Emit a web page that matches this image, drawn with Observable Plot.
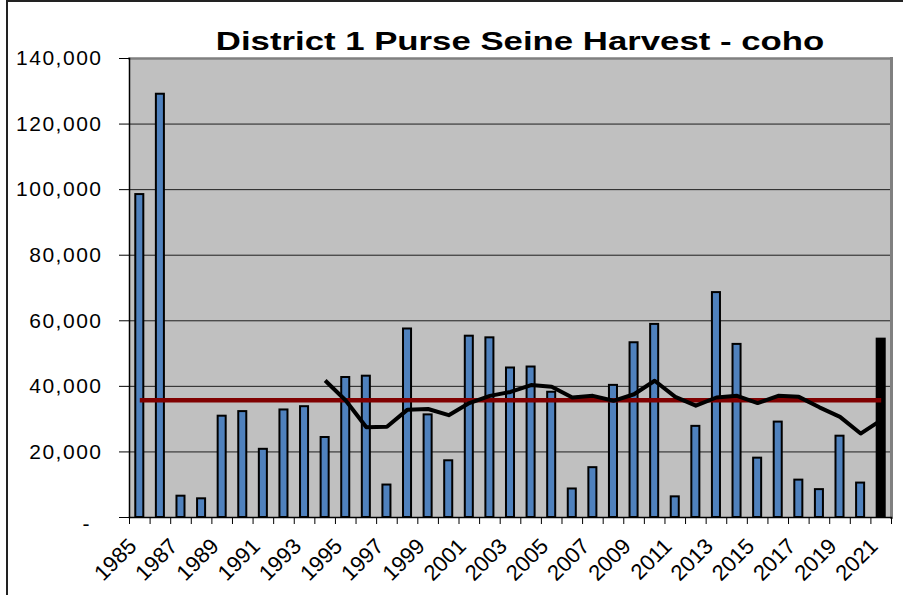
<!DOCTYPE html>
<html>
<head>
<meta charset="utf-8">
<script src="https://cdn.jsdelivr.net/npm/d3@7"></script>
<script src="https://cdn.jsdelivr.net/npm/@observablehq/plot@0.6"></script>
<style>
  body { margin: 0; background: #fff; }
  #wrap { position: relative; width: 903px; height: 595px; overflow: hidden; background: #fff; }
  #chart { position: absolute; left: 0; top: 0; }
  #title {
    position: absolute; left: 520px; top: 29px; white-space: nowrap;
    font: bold 25px "Liberation Sans", Arial, sans-serif; line-height: 25px; color: #000;
    transform: translateX(-50%) scaleX(1.39); transform-origin: center;
  }
  #border {
    position: absolute; left: 6px; top: 0; width: 897px; height: 595px;
    border-left: 2px solid #222; border-top: 2px solid #222; pointer-events: none; box-sizing: border-box;
  }
</style>
</head>
<body>
<div id="wrap">
  <div id="chart"></div>
  <div id="title">District 1 Purse Seine Harvest - coho</div>
  <div id="border"></div>
</div>
<script>
// Years (categories)
const years = [1985, 1986, 1987, 1988, 1989, 1990, 1991, 1992, 1993, 1994, 1995, 1996, 1997, 1998, 1999, 2000,
  2001, 2002, 2003, 2004, 2005, 2006, 2007, 2008, 2009, 2010, 2011, 2012, 2013, 2014, 2015, 2016, 2017, 2018,
  2019, 2020, 2021];
// Coho purse seine harvest (fish)
const harvest = [98500, 129100, 6500, 5700, 30900, 32300, 20800, 32800, 33800, 24400, 42700, 43100, 9900, 57500,
  31300, 17300, 55300, 54800, 45600, 45900, 38200, 8700, 15200, 40300, 53300, 58900, 6300, 27800, 68600, 52800,
  18100, 29100, 11400, 8500, 24800, 10500, 54400];
// Moving average line (black)
const avgYears = [1994, 1995, 1996, 1997, 1998, 1999, 2000, 2001, 2002, 2003, 2004, 2005, 2006, 2007, 2008,
  2009, 2010, 2011, 2012, 2013, 2014, 2015, 2016, 2017, 2018, 2019, 2020, 2021];
const avgValues = [41800, 35700, 27500, 27700, 32900, 33100, 31200, 34900, 37100, 38300, 40400, 39900, 36600,
  37100, 35600, 37600, 41700, 36800, 34100, 36600, 37100, 34900, 37100, 36800, 33600, 30700, 25600, 29700];
// Long-term average (red line)
const meanYears = [1985, 2021];
const meanValue = 35800;
const currentYear = 2021;
// Axis ticks
const yTicks = [0, 20000, 40000, 60000, 80000, 100000, 120000, 140000];
const yTickLabels = ["-", "20,000", "40,000", "60,000", "80,000", "100,000", "120,000", "140,000"];
const xLabelYears = years.filter((d, i) => i % 2 === 0);

const bars = years.map((year, i) => ({year, value: harvest[i]}));
const avgData = avgYears.map((year, i) => ({year, value: avgValues[i]}));
const meanData = meanYears.map(year => ({year, value: meanValue}));
const yLab = yTicks.map((v, i) => ({v, label: yTickLabels[i]}));
const step = (891 - 129) / years.length;

const chart = Plot.plot({
  width: 903,
  height: 595,
  marginLeft: 129,
  marginRight: 12,
  marginTop: 58,
  marginBottom: 78,
  style: {fontFamily: '"Liberation Sans", Arial, sans-serif', fontSize: "21px", color: "#000", background: "transparent", overflow: "visible"},
  x: {type: "band", domain: years, paddingInner: 0.61, paddingOuter: 0.305, round: false, axis: null, label: null},
  y: {domain: [0, 140000], axis: null, label: null},
  marks: [
    Plot.frame({fill: "#C0C0C0", stroke: null}),
    Plot.ruleY(yTicks.filter(d => d > 0 && d < 140000), {stroke: "#1e1e1e", strokeWidth: 1}),
    Plot.barY(bars, {filter: d => d.year !== currentYear, x: "year", y: "value", fill: "#4F81BD", stroke: "#000", strokeWidth: 2}),
    Plot.barY(bars, {filter: d => d.year === currentYear, x: "year", y: "value", fill: "#000", stroke: "#000", strokeWidth: 2}),
    Plot.line(meanData, {x: "year", y: "value", stroke: "#800000", strokeWidth: 4.5, strokeLinecap: "butt"}),
    Plot.line(avgData, {x: "year", y: "value", stroke: "#000", strokeWidth: 4, strokeLinejoin: "round", strokeLinecap: "butt"}),
    Plot.frame({anchor: "top", stroke: "#808080", strokeWidth: 2.5}),
    Plot.frame({anchor: "right", stroke: "#808080", strokeWidth: 3}),
    Plot.frame({anchor: "left", stroke: "#000", strokeWidth: 1.5}),
    Plot.frame({anchor: "bottom", stroke: "#000", strokeWidth: 1.5}),
    Plot.axisY(yTicks, {tickSize: 10, tickFormat: () => "", label: null, stroke: "#000"}),
    Plot.text(yLab.filter(d => d.v > 0), {y: "v", text: "label", frameAnchor: "left", dx: -27, textAnchor: "end", fontSize: "21px", fill: "#000"}),
    Plot.text(yLab.filter(d => d.v === 0), {y: "v", text: "label", frameAnchor: "left", dx: -40, dy: 7, textAnchor: "end", fontSize: "21px", fill: "#000"}),
    Plot.axisX(years, {tickSize: 7, tickFormat: () => "", dx: -step / 2, label: null, stroke: "#000"}),
    Plot.axisX([years[years.length - 1]], {tickSize: 7, tickFormat: () => "", dx: step / 2, label: null, stroke: "#000"}),
    Plot.text(xLabelYears, {x: d => d, text: d => String(d), frameAnchor: "bottom", dy: 30, dx: -2, rotate: -45, textAnchor: "end", fontSize: "22px", fill: "#000"})
  ]
});
// widen the y tick labels slightly, as in the reference
d3.select(chart).selectAll("text")
  .filter(function() { return /^\d{2,3},000$/.test(this.textContent); })
  .style("letter-spacing", "1.5px");
document.getElementById("chart").appendChild(chart);
</script>
</body>
</html>
